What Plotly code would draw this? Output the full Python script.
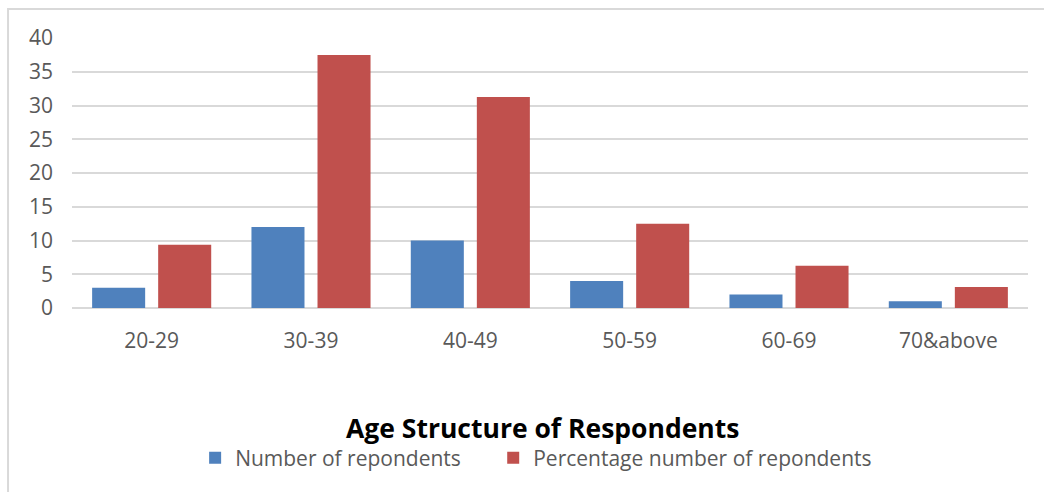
import plotly.graph_objects as go

age_groups = ["20-29", "30-39", "40-49", "50-59", "60-69", "70&above"]
respondents = [3, 12, 10, 4, 2, 1]
percentage = [9.375, 37.5, 31.25, 12.5, 6.25, 3.125]

FONT = "Open Sans"
TEXT_GREY = "#595959"
GRID = "#D9D9D9"

fig = go.Figure()
fig.add_trace(go.Bar(x=age_groups, y=respondents, name="Number of repondents",
                     marker=dict(color="#4F81BD", line=dict(width=0)), legend="legend"))
fig.add_trace(go.Bar(x=age_groups, y=percentage, name="Percentage number of repondents",
                     marker=dict(color="#C0504D", line=dict(width=0)), legend="legend2"))

legend_style = dict(orientation="h", y=-0.556, yanchor="middle", xanchor="left",
                    font=dict(size=21, color=TEXT_GREY), itemwidth=30,
                    bgcolor="rgba(0,0,0,0)", borderwidth=0)

fig.update_layout(
    width=1044, height=492,
    margin=dict(l=72, r=16, t=38, b=184),
    paper_bgcolor="white", plot_bgcolor="white",
    barmode="group", bargap=0.171, bargroupgap=0.197,
    font=dict(family=FONT, color=TEXT_GREY, size=21),
    showlegend=True,
    legend=dict(x=0.1288, **legend_style),
    legend2=dict(x=0.4406, **legend_style),
    xaxis=dict(showgrid=False, showline=False, ticks="", ticklabelstandoff=18,
               tickfont=dict(size=21, color=TEXT_GREY)),
    yaxis=dict(range=[0, 40], dtick=5, showgrid=True, gridcolor=GRID, gridwidth=2,
               zeroline=True, zerolinecolor=GRID, zerolinewidth=2, showline=False,
               ticks="", ticklabelstandoff=18, tickfont=dict(size=21, color=TEXT_GREY)),
    annotations=[dict(text="<b>Age Structure of Respondents</b>", xref="paper", yref="paper",
                      x=0.492, y=-0.445, xanchor="center", yanchor="middle", showarrow=False,
                      font=dict(family=FONT, size=26.5, color="black"))],
    shapes=[dict(type="rect", xref="paper", yref="paper", x0=-0.0669, x1=1.03, y0=-0.75, y1=1.107,
                 line=dict(color=GRID, width=2), fillcolor="rgba(0,0,0,0)", layer="below")],
)

fig.write_html("out.html")
